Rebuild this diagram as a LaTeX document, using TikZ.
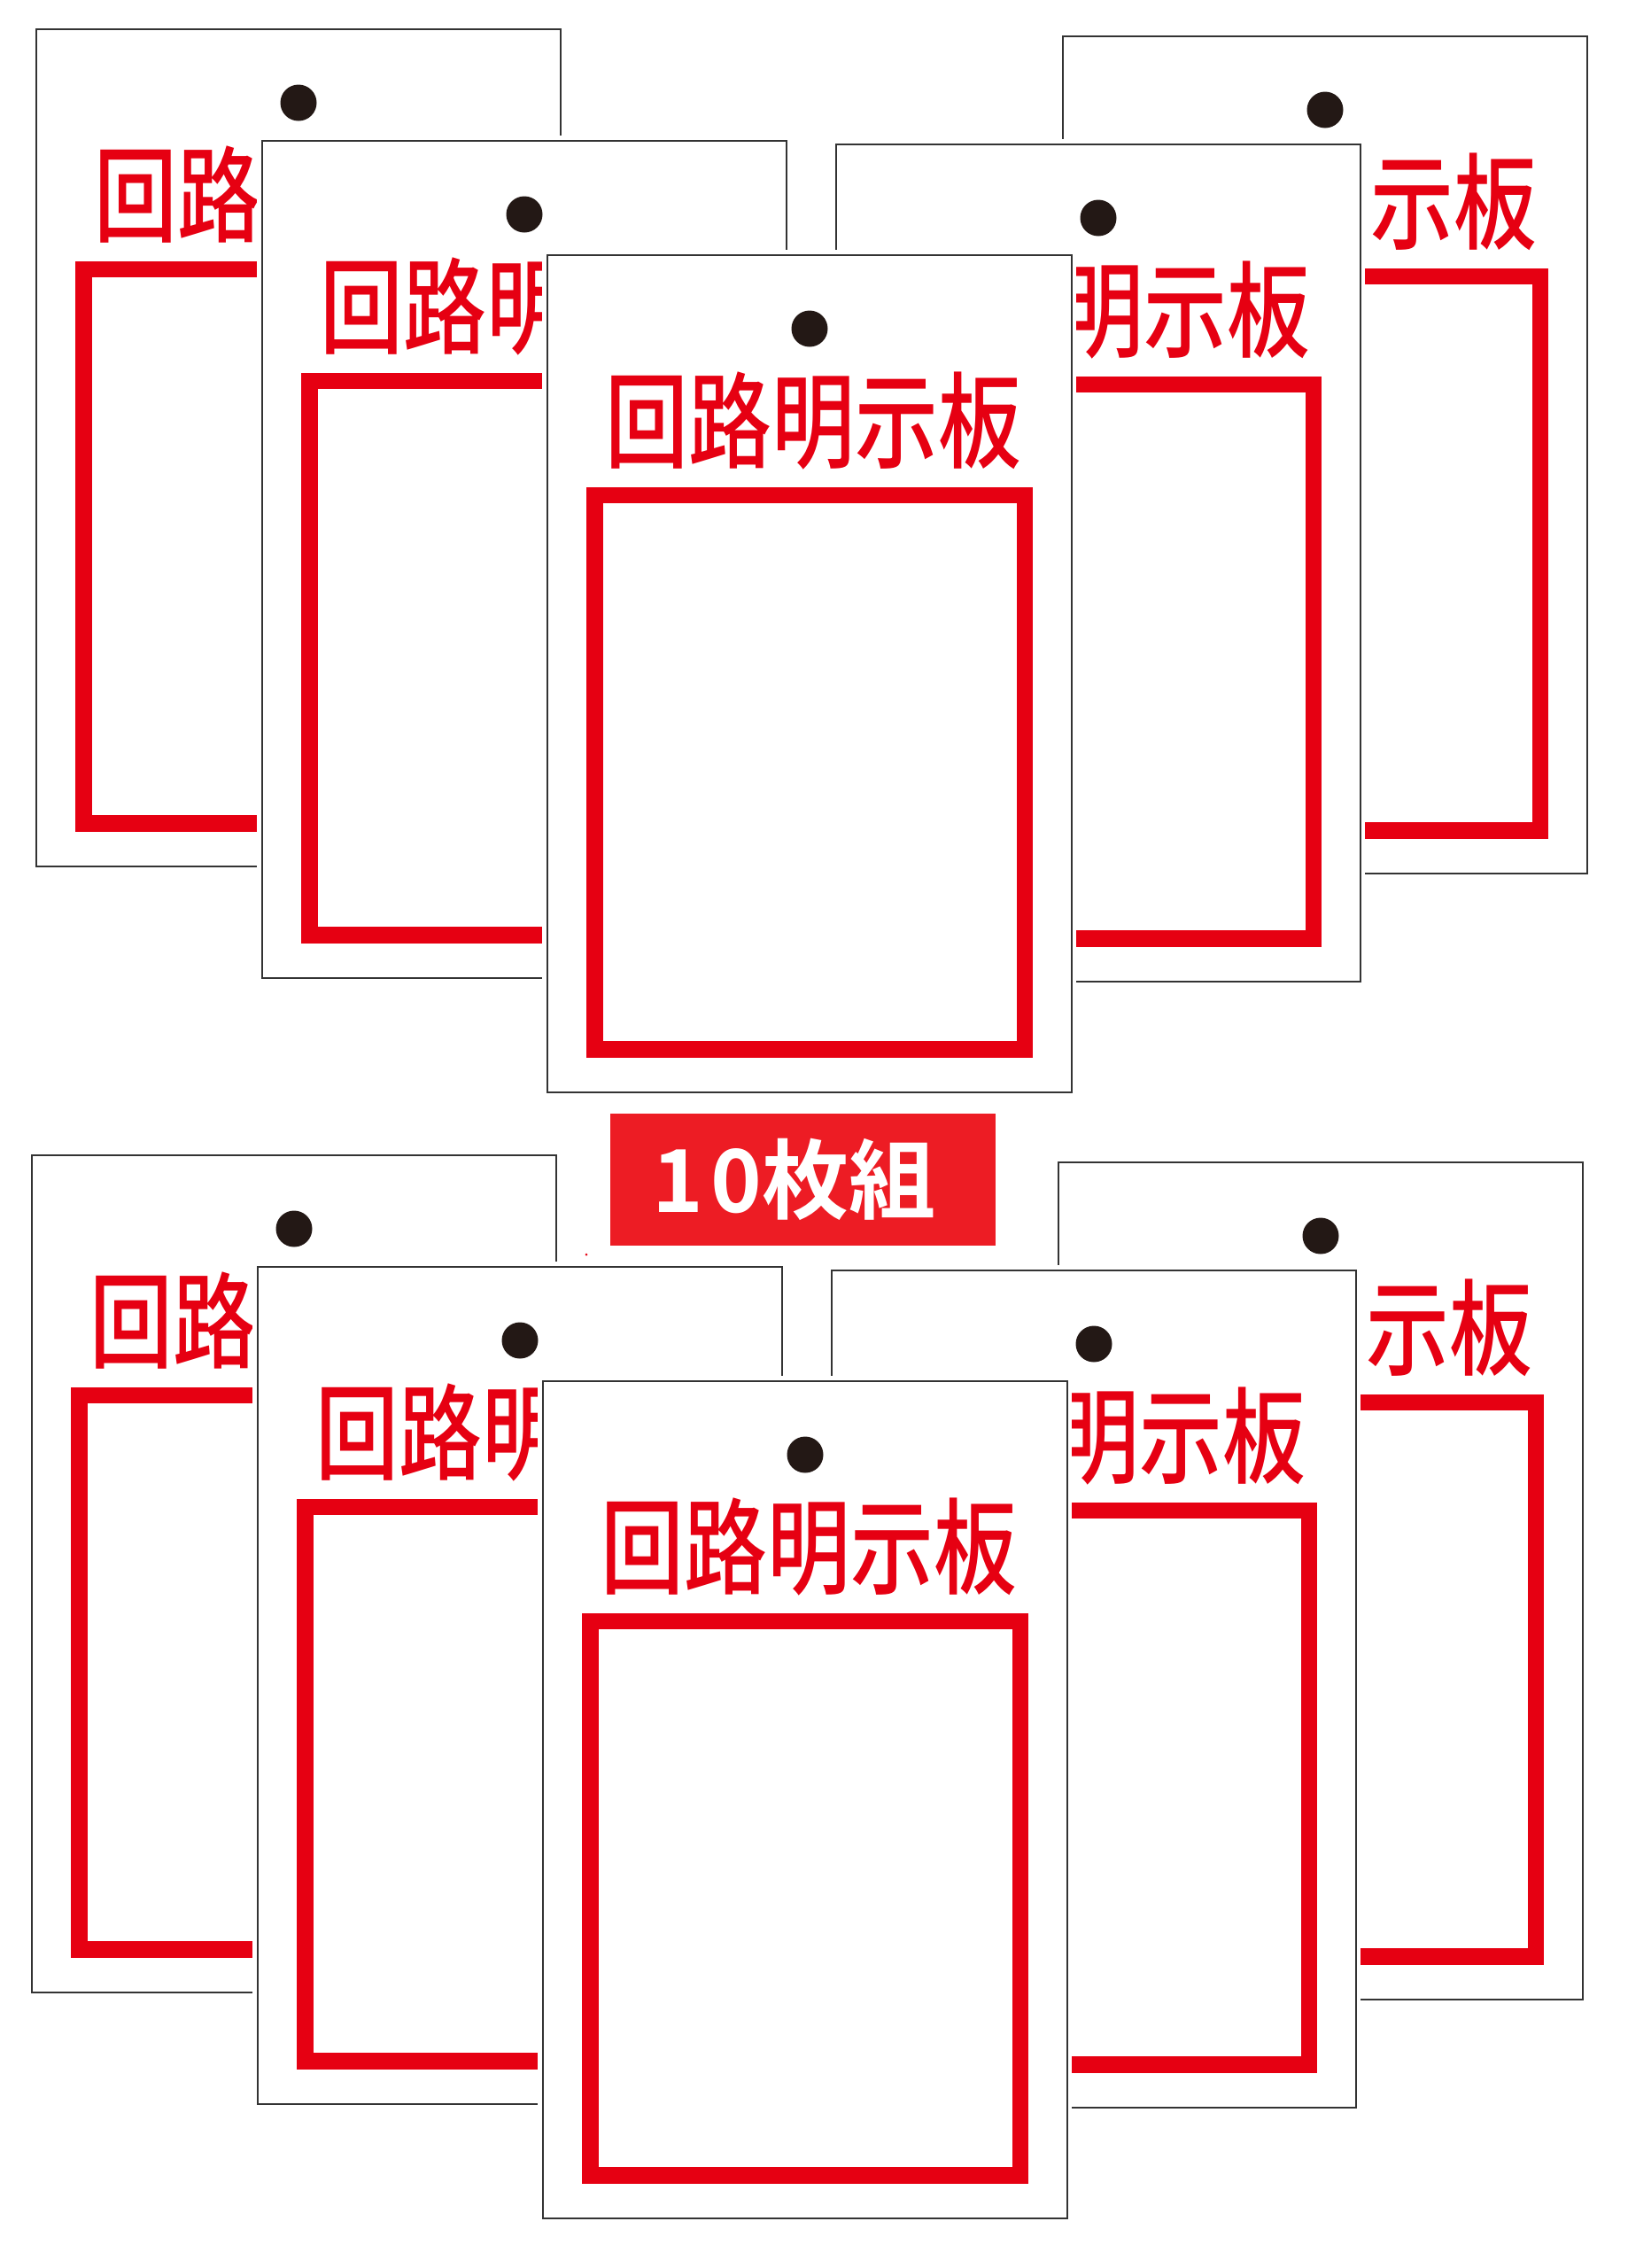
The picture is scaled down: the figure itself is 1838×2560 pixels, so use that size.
\documentclass[tikz,border=0pt]{standalone}
\usepackage{fontspec}
\usepackage{xcolor}
\newfontfamily\cjk{Noto Sans CJK JP Medium}
\newfontfamily\cjkbold{Noto Sans CJK JP Bold}
\definecolor{framered}{RGB}{230,0,18}
\definecolor{bandred}{RGB}{237,28,36}
\definecolor{holeblack}{RGB}{35,24,21}
\tikzset{
  % card with a thin white halo round it
  cardhalo/.style={fill=white},
  cardedge/.style={draw=black!80, line width=2.4pt, fill=white},
  % red frame on the card
  cardframe/.style={draw=framered, line width=18.5pt},
  cardtitle/.style={text=framered, inner sep=0pt, font=\fontsize{118}{118}\cjk},
  cardhole/.style={fill=holeblack},
  % band with the count
  bandbox/.style={fill=bandred, text=white, inner sep=0pt, minimum width=435pt, minimum height=149pt,
    font=\fontsize{98}{98}\cjkbold},
  tagcard/.pic={
    \fill[cardhalo] (-6,-6) rectangle (596.5,950);
    \draw[cardedge] (0,0) rectangle (592,945);
    \fill[cardhole] (296,83) circle (20.5);
    \node[cardtitle] (-title) at (300.5,187) {\scalebox{0.795}[1]{回路明示板}};
    \draw[cardframe] (53.5,271) rectangle (539,896.5);
  },
}
\begin{document}
\begin{tikzpicture}[x=1pt,y=-1pt]
  \useasboundingbox (0,0) rectangle (1838,2560);
  % upper and lower group
  \foreach \grp/\dx/\dy in {up/0/0,low/-5/1271} {
    \begin{scope}[shift={(\dx,\dy)}]
      \foreach \tag/\x/\y in {backl/41/33,backr/1200/41,midl/296/159,midr/944/163,front/618/288}
        \pic (\grp\tag) at (\x,\y) {tagcard};
    \end{scope}
  }
  % count band
  \node[bandbox] (band) at (906.5,1331.5) {1\kern8pt 0枚組\hspace*{20pt}};
  \fill[framered] (662,1416) circle (1.5);
\end{tikzpicture}
\end{document}
